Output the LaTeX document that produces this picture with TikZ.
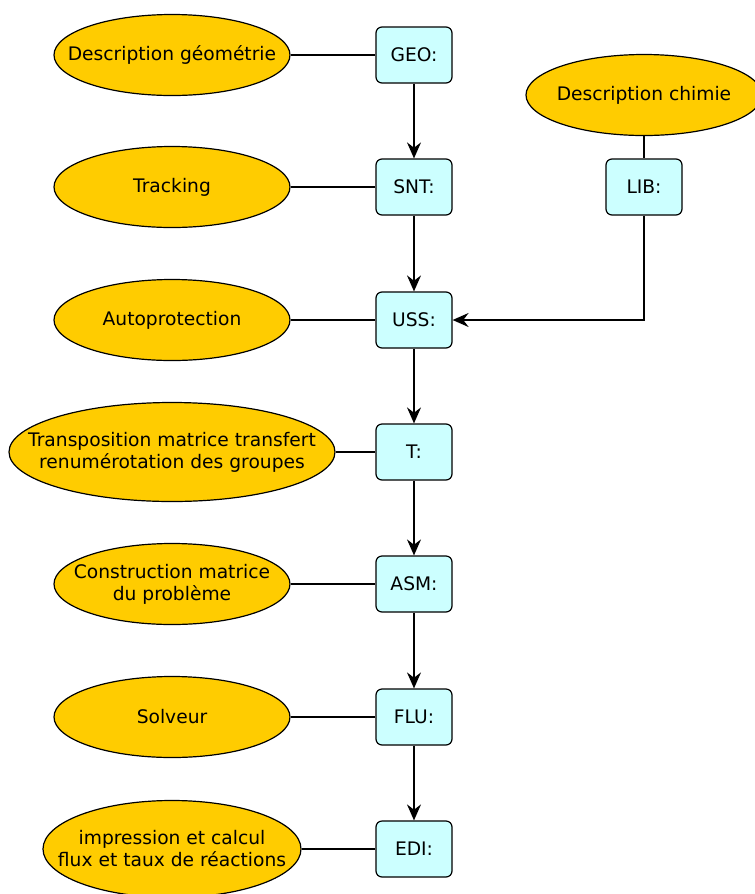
\documentclass[tikz,border=0pt]{standalone}
\usepackage{fontspec}
\setmainfont{DejaVu Sans}
\usepackage{xcolor}
\usepackage{tikz}
\usetikzlibrary{shapes.geometric}
\usetikzlibrary{arrows.meta}
\definecolor{boxcyan}{HTML}{CCFFFF}
\definecolor{ovalgold}{HTML}{FFCC00}
\tikzset{
    modnode/.style = {rectangle, rounded corners=4.5pt, draw=black, fill=boxcyan, line width=0.9pt, minimum width=57pt, minimum height=42pt, inner sep=0pt},
    descnode/.style = {ellipse, draw=black, fill=ovalgold, line width=0.9pt, align=center, minimum width=177pt, minimum height=60.75pt, inner xsep=-40pt, inner ysep=-12pt},
}

\begin{document}
\begin{tikzpicture}[
	x=0.75pt, y=-0.75pt,
	line width=1.1pt,
	font=\fontsize{14pt}{16.5pt}\selectfont
]
\tikzset{
    edgen/.style = {-},
    edgea/.style = {-{Stealth[length=12pt,width=10.5pt,inset=4pt]}}
}
\useasboundingbox (0,0) rectangle (755,894);
%
\node[modnode] at (414,55) (geo) {GEO:};
\node[modnode] at (414,187) (snt) {SNT:};
\node[modnode] at (414,320) (uss) {USS:};
\node[modnode] at (414,452) (t) {T:};
\node[modnode] at (414,584) (asm) {ASM:};
\node[modnode] at (414,717) (flu) {FLU:};
\node[modnode] at (414,849) (edi) {EDI:};
\node[modnode] at (644,187) (lib) {LIB:};
%
\node[descnode] at (172,55) (dgeo) {Description géométrie};
\node[descnode] at (172,187) (dsnt) {Tracking};
\node[descnode] at (172,320) (duss) {Autoprotection};
\node[descnode, minimum width=244.5pt, minimum height=74.25pt] at (172,452) (dt) {Transposition matrice transfert\\renumérotation des groupes};
\node[descnode] at (172,584) (dasm) {Construction matrice\\du problème};
\node[descnode] at (172,717) (dflu) {Solveur};
\node[descnode, minimum width=193.5pt, minimum height=72.75pt] at (172,849) (dedi) {impression et calcul\\flux et taux de réactions};
\node[descnode] at (644,95) (dlib) {Description chimie};
%
\draw[edgea] (geo) edge (snt);
\draw[edgea] (snt) edge (uss);
\draw[edgea] (uss) edge (t);
\draw[edgea] (t) edge (asm);
\draw[edgea] (asm) edge (flu);
\draw[edgea] (flu) edge (edi);
\draw[edgea] (lib.south) |- (uss.east);
%
\draw[edgen] (dgeo) edge (geo);
\draw[edgen] (dsnt) edge (snt);
\draw[edgen] (duss) edge (uss);
\draw[edgen] (dt) edge (t);
\draw[edgen] (dasm) edge (asm);
\draw[edgen] (dflu) edge (flu);
\draw[edgen] (dedi) edge (edi);
\draw[edgen] (dlib) edge (lib);
\end{tikzpicture}
\end{document}
